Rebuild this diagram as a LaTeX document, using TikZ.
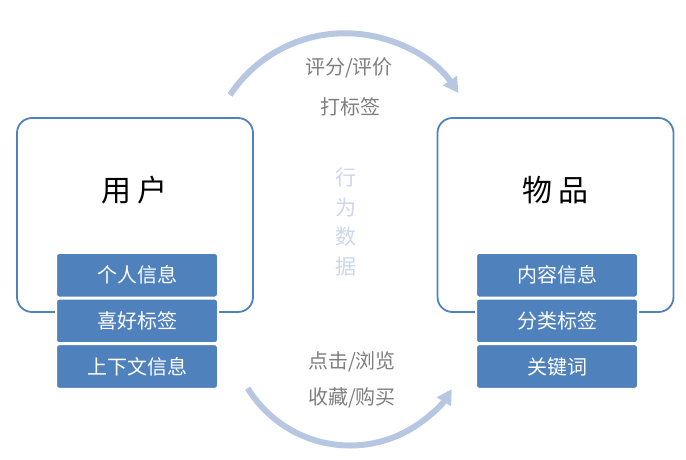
\documentclass[tikz,border=0pt]{standalone}
\usepackage{fontspec}
\setmainfont{Noto Sans CJK SC}
\usetikzlibrary{arrows.meta,positioning}

\definecolor{boxblue}{HTML}{4F81BD}
\definecolor{flowblue}{HTML}{B7C7E2}
\definecolor{lblgray}{HTML}{7F7F7F}
\definecolor{behavblue}{HTML}{CCD7EC}

\begin{document}
\begin{tikzpicture}[
    x=1pt, y=1pt,
    entity/.style={draw=boxblue, line width=1.8pt, rounded corners=15pt, minimum width=236pt, minimum height=194pt},
    title/.style={font=\fontsize{30}{32}\selectfont},
    attr/.style={draw=white, line width=2pt, fill=boxblue, rounded corners=3pt, minimum width=162pt, minimum height=44.6pt, text=white, font=\fontsize{20}{22}\selectfont},
    lbl/.style={text=lblgray, font=\fontsize{20}{22}\selectfont},
    behavior/.style={text=behavblue, align=center, font=\fontsize{21}{29.5}\selectfont},
    flow/.style={draw=flowblue, line width=6pt, -{Triangle[length=15pt, width=16pt]}}
]
    \useasboundingbox (0,0) rectangle (686,460);

    % Nodes
    \node[entity] (usr) at (135,245) {};
    \node[title] (usrname) at (134,270) {用\hspace{6pt}户};
    \node[attr] (usrinfo) at (137,184.7) {个人信息};
    \node[attr, below=-1pt of usrinfo] (usrpref) {喜好标签};
    \node[attr, below=-1pt of usrpref] (usrctx) {上下文信息};

    \node[entity] (item) at (555.5,245) {};
    \node[title] (itemname) at (555,270) {物\hspace{6pt}品};
    \node[attr] (iteminfo) at (557,184.7) {内容信息};
    \node[attr, below=-1pt of iteminfo] (itemcat) {分类标签};
    \node[attr, below=-1pt of itemcat] (itemkey) {关键词};

    \node[lbl] (rate) at (349,392) {评分/评价};
    \node[lbl] (tag) at (350,353) {打标签};
    \node[lbl] (click) at (352,98) {点击/浏览};
    \node[lbl] (buy) at (352,62) {收藏/购买};
    \node[behavior] (behav) at (346,238) {行\\为\\数\\据};

    % Links
    \coordinate (topstart) at (230,365);
    \coordinate (botstart) at (247.7,71.8);
    \draw[flow] (topstart) arc[start angle=146.5, end angle=34.5, radius=137.8];
    \draw[flow] (botstart) arc[start angle=211.5, end angle=328, radius=120];
\end{tikzpicture}
\end{document}
